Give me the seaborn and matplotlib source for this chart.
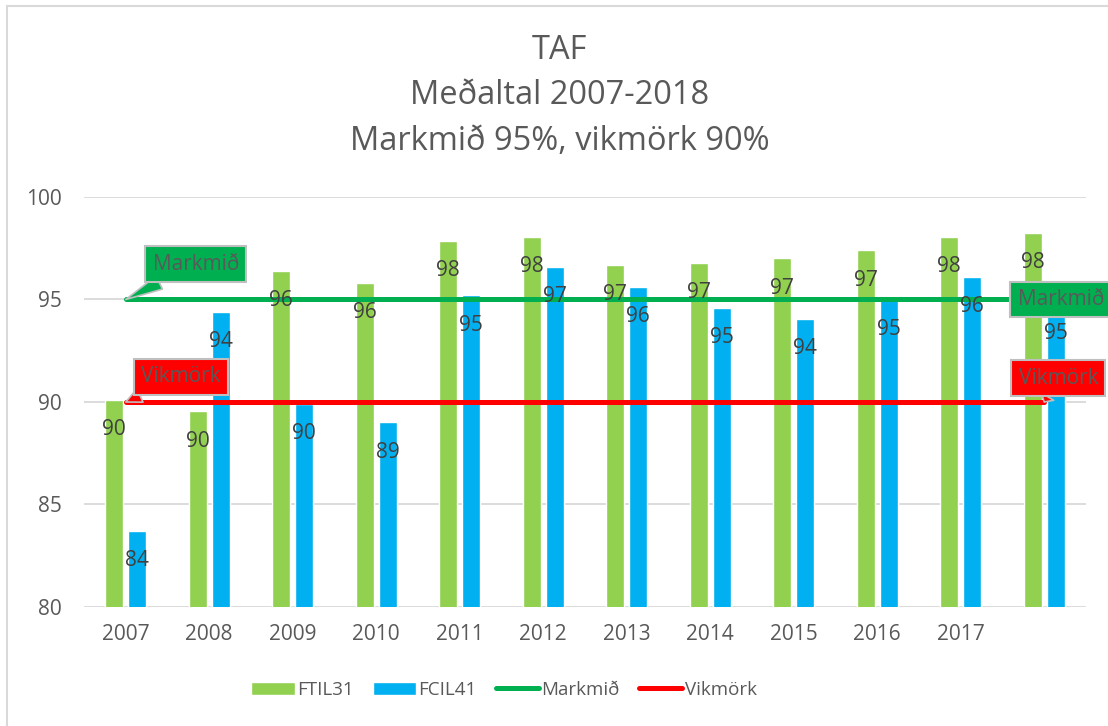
import numpy as np
import pandas as pd
import seaborn as sns
import matplotlib.pyplot as plt
from matplotlib.patches import Rectangle

# Gögn lesin af myndinni
years = ["2007", "2008", "2009", "2010", "2011", "2012",
         "2013", "2014", "2015", "2016", "2017", "2018"]
tick_labels = ["2007", "2008", "2009", "2010", "2011", "2012",
               "2013", "2014", "2015", "2016", "2017", ""]
ftil31 = [90.1, 89.55, 96.4, 95.8, 97.85, 98.05, 96.7, 96.8, 97.0, 97.4, 98.05, 98.25]
fcil41 = [83.7, 94.4, 89.9, 89.0, 95.2, 96.6, 95.6, 94.6, 94.05, 95.0, 96.1, 94.8]
markmid = [95, 95, 95, 95, 95, 95, 95, 95, 95, 95, 95, 95]
vikmork = [90, 90, 90, 90, 90, 90, 90, 90, 90, 90, 90, 90]
series_names = ["FTIL31", "FCIL41"]
title_lines = ["TAF", "Meðaltal 2007-2018", "Markmið 95%, vikmörk 90%"]

GREEN_BAR = "#92D050"
BLUE_BAR = "#00B0F0"
GREEN_LINE = "#00B050"
RED_LINE = "#FF0000"
GRAY_TXT = "#595959"
LABEL_TXT = "#404040"
GRID = "#D9D9D9"

df = pd.DataFrame({
    "year": years * 2,
    "series": [series_names[0]] * len(years) + [series_names[1]] * len(years),
    "value": ftil31 + fcil41,
})

sns.set_style("white")
plt.rcParams["font.family"] = ["Open Sans", "DejaVu Sans"]

fig = plt.figure(figsize=(11.08, 7.26), dpi=100)
ax = fig.add_axes([84 / 1108, 1 - 607 / 726, 1002 / 1108, 410 / 726])

# Súlur
sns.barplot(data=df, x="year", y="value", hue="series", order=years,
            palette=[GREEN_BAR, BLUE_BAR], saturation=1, width=0.55, gap=0.2,
            legend=False, ax=ax, zorder=2)

# Markmið og vikmörk
x = np.arange(len(years))
l1, = ax.plot(x, markmid, color=GREEN_LINE, lw=3.6, solid_capstyle="round",
              label="Markmið", zorder=3)
l2, = ax.plot(x, vikmork, color=RED_LINE, lw=3.6, solid_capstyle="round",
              label="Vikmörk", zorder=3)

# Gildi á súlum
for cont, vals in zip(ax.containers, [ftil31, fcil41]):
    ax.bar_label(cont, labels=[f"{v:.0f}" for v in vals], padding=-29,
                 fontsize=15, color=LABEL_TXT, zorder=4)

ax.set_xlim(-0.5, len(years) - 0.5)
ax.set_ylim(80, 100)
ax.set_yticks([80, 85, 90, 95, 100])
ax.set_xticks(x)
ax.set_xticklabels(tick_labels)
ax.set_xlabel("")
ax.set_ylabel("")
ax.yaxis.grid(True, color=GRID, lw=1.3, zorder=0)
ax.set_axisbelow(True)
for s in ax.spines.values():
    s.set_visible(False)
ax.tick_params(axis="y", labelsize=15, labelcolor=GRAY_TXT, pad=16, length=0)
ax.tick_params(axis="x", labelsize=15, labelcolor=GRAY_TXT, pad=12, length=0)

# Skýringarkassar
def callout(text, xy, xytext, fc):
    ax.annotate(text, xy=xy, xytext=xytext, textcoords="data",
                ha="center", va="center", fontsize=15, color=GRAY_TXT,
                annotation_clip=False, zorder=6,
                bbox=dict(boxstyle="square,pad=0.35", fc=fc, ec="#BFBFBF", lw=1.5),
                arrowprops=dict(arrowstyle="wedge,tail_width=0.7", fc=fc,
                                ec="#BFBFBF", lw=1.2, shrinkA=0, shrinkB=0))

callout("Markmið", (0, 95), (0.84, 96.73), GREEN_LINE)
callout("Markmið", (11, 95), (11.2, 95.0), GREEN_LINE)
callout("Vikmörk", (0, 90), (0.66, 91.22), RED_LINE)
callout("Vikmörk", (11, 90), (11.17, 91.17), RED_LINE)

# Titill
fig.text(0.505, 1 - 96 / 726, "\n".join(title_lines), ha="center", va="center",
         fontsize=23.5, color=GRAY_TXT, linespacing=1.5)

# Skýringar
fig.legend([ax.containers[0], ax.containers[1], l1, l2],
           series_names + ["Markmið", "Vikmörk"],
           loc="center", bbox_to_anchor=(504 / 1108, 1 - 690 / 726), ncol=4,
           frameon=False, fontsize=13.5, labelcolor=GRAY_TXT,
           handlelength=2.3, handleheight=0.75, handletextpad=0.15,
           columnspacing=1.0)

# Rammi
fig.patches.append(Rectangle((7 / 1108, -0.5), 2, 0.5 + 1 - 6 / 726,
                             transform=fig.transFigure, fill=False,
                             ec=GRID, lw=1.5))

fig.savefig("out.png", dpi=100)
